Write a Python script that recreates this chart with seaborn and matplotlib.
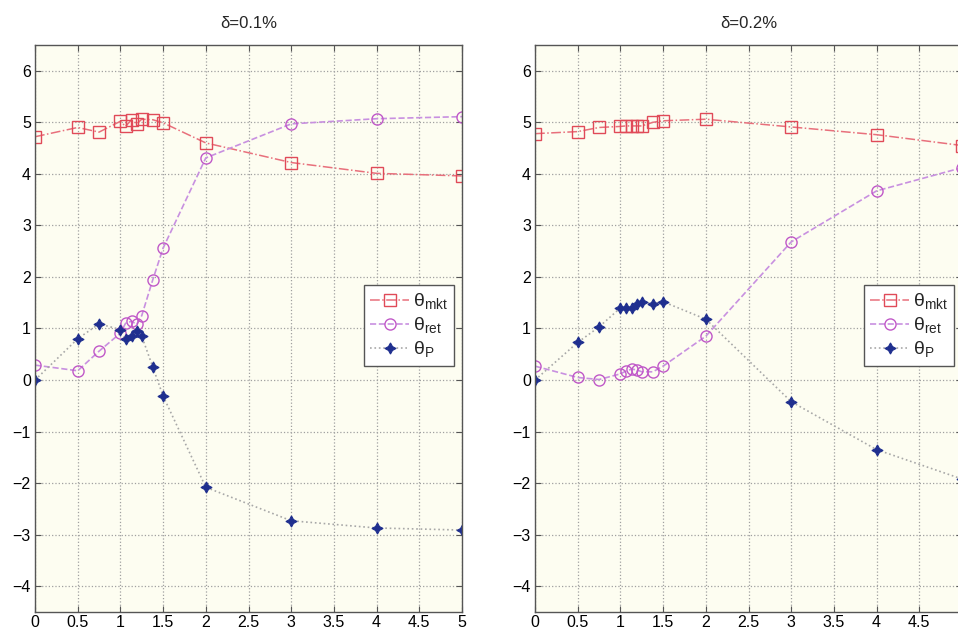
import matplotlib
matplotlib.use("Agg")
import matplotlib.pyplot as plt
import seaborn as sns
import numpy as np

# Sample points (shared by both panels)
x_vals = [0, 0.5, 0.75, 1.0, 1.06, 1.13, 1.19, 1.25, 1.38, 1.5, 2, 3, 4, 5]

# delta = 0.1%
mkt_01 = [4.72, 4.90, 4.81, 5.02, 4.92, 5.05, 4.97, 5.06, 5.05, 4.99, 4.60, 4.22, 4.01, 3.96]
ret_01 = [0.29, 0.18, 0.56, 0.91, 1.10, 1.14, 1.08, 1.25, 1.95, 2.56, 4.31, 4.97, 5.07, 5.11]
p_01 = [0.00, 0.80, 1.09, 0.98, 0.80, 0.85, 0.96, 0.85, 0.25, -0.31, -2.08, -2.73, -2.87, -2.91]

# delta = 0.2%
mkt_02 = [4.78, 4.82, 4.90, 4.92, 4.93, 4.93, 4.93, 4.93, 5.00, 5.03, 5.06, 4.91, 4.76, 4.55]
ret_02 = [0.27, 0.05, 0.01, 0.12, 0.17, 0.21, 0.20, 0.16, 0.16, 0.27, 0.85, 2.68, 3.67, 4.12]
p_02 = [0.00, 0.73, 1.03, 1.40, 1.39, 1.39, 1.47, 1.51, 1.48, 1.52, 1.18, -0.42, -1.35, -1.92]

titles = ["δ=0.1%", "δ=0.2%"]
x_ticks = [0, 0.5, 1, 1.5, 2, 2.5, 3, 3.5, 4, 4.5, 5]
x_tick_labels = ["0", "0.5", "1", "1.5", "2", "2.5", "3", "3.5", "4", "4.5", "5"]
y_ticks = [-4, -3, -2, -1, 0, 1, 2, 3, 4, 5, 6]
y_tick_labels = ["\u22124", "\u22123", "\u22122", "\u22121", "0", "1", "2", "3", "4", "5", "6"]
labels = ["θ$_{\\mathrm{mkt}}$", "θ$_{\\mathrm{ret}}$", "θ$_{\\mathrm{P}}$"]

sns.set_theme(style="ticks")
plt.rcParams["font.family"] = ["Liberation Sans Narrow", "Liberation Sans", "DejaVu Sans"]
plt.rcParams["mathtext.fontset"] = "custom"
plt.rcParams["mathtext.rm"] = "Liberation Sans"

W, H = 958, 630
fig = plt.figure(figsize=(W / 100, H / 100), dpi=100)
fig.patch.set_facecolor("white")

ax_w, ax_h = 427 / W, 567 / H
ax_bottom = (H - 612) / H
# the right panel runs slightly past the figure's right edge
axes = [fig.add_axes([35 / W, ax_bottom, ax_w, ax_h]),
        fig.add_axes([535 / W, ax_bottom, ax_w, ax_h])]

panels = [(mkt_01, ret_01, p_01), (mkt_02, ret_02, p_02)]

star4 = (4, 1, 0)

for i, (ax, (mkt, ret, pp), title) in enumerate(zip(axes, panels, titles)):
    ax.set_facecolor("#fdfdf1")
    sns.lineplot(x=x_vals, y=mkt, ax=ax, color="#e8707c", linestyle="-.", linewidth=1.1,
                 marker="s", markersize=8, markerfacecolor="none",
                 markeredgecolor="#e04a58", markeredgewidth=1.0, label=labels[0])
    sns.lineplot(x=x_vals, y=ret, ax=ax, color="#c890e0", linestyle="--", linewidth=1.2,
                 marker="o", markersize=8, markerfacecolor="none",
                 markeredgecolor="#c058c8", markeredgewidth=1.0, label=labels[1])
    sns.lineplot(x=x_vals, y=pp, ax=ax, color="#a8a8a8", linestyle=":", linewidth=1.2,
                 marker=star4, markersize=8, markerfacecolor="#1f2f8f",
                 markeredgecolor="#1f2f8f", markeredgewidth=0.8, label=labels[2])

    ax.set_xlim(0, 5)
    ax.set_ylim(-4.5, 6.5)
    ax.set_xticks(x_ticks)
    xl = list(x_tick_labels)
    if i == 1:
        xl[-1] = ""  # last label falls outside the figure
    ax.set_xticklabels(xl)
    ax.set_yticks(y_ticks)
    ax.set_yticklabels(y_tick_labels)
    ax.set_xlabel("")
    ax.set_ylabel("")
    ax.grid(True, linestyle=":", color="#a0a0a0", linewidth=0.9)
    ax.tick_params(direction="in", top=True, right=True, length=4, width=0.8,
                   color="#555555", labelsize=11.5, labelcolor="black")
    ax.tick_params(axis="x", pad=2)
    ax.tick_params(axis="y", pad=3)
    for s in ax.spines.values():
        s.set_color("#555555")
        s.set_linewidth(1.0)
        s.set_visible(True)
    ax.set_title(title, fontsize=12, pad=12)

    leg = ax.legend(loc="center right", bbox_to_anchor=(0.99, 0.505), fontsize=14,
                    frameon=True, fancybox=False, framealpha=1.0, handlelength=2.0,
                    borderpad=0.3, labelspacing=0.2, handletextpad=0.2,
                    borderaxespad=0.2, numpoints=1)
    leg.get_frame().set_edgecolor("#555555")
    leg.get_frame().set_linewidth(1.0)

fig.savefig("out.png", dpi=100)
